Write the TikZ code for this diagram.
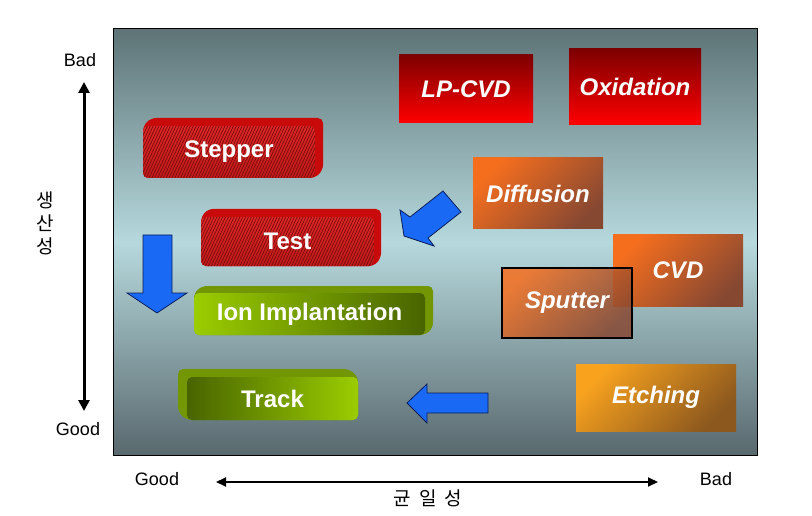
\documentclass[tikz,border=0pt]{standalone}
\usepackage{fontspec}
\setmainfont{Liberation Sans}
\newfontfamily\krfont{Noto Sans CJK KR}
\usetikzlibrary{arrows.meta,patterns.meta}
\definecolor{bgtop}{RGB}{94,116,119}
\definecolor{bgmid}{RGB}{182,217,221}
\definecolor{bgbot}{RGB}{89,105,110}
\definecolor{rdark}{RGB}{125,0,0}
\definecolor{rbright}{RGB}{255,0,0}
\definecolor{rside}{RGB}{200,10,10}
\definecolor{rfront}{RGB}{225,40,40}
\definecolor{rfrontb}{RGB}{195,28,28}
\definecolor{rhatch}{RGB}{125,12,12}
\definecolor{orA}{RGB}{245,110,30}
\definecolor{orB}{RGB}{135,72,50}
\definecolor{etA}{RGB}{248,162,30}
\definecolor{etB}{RGB}{140,88,30}
\definecolor{gLight}{RGB}{155,205,0}
\definecolor{gDark}{RGB}{72,100,0}
\definecolor{gSide}{RGB}{115,150,5}
\definecolor{ablue}{RGB}{25,105,245}
\definecolor{aedge}{RGB}{10,30,90}
\newcommand\krset{\krfont\fontsize{19}{23}\selectfont\spaceskip=8pt\relax}
\begin{document}
\begin{tikzpicture}[x=1pt,y=-1pt,
  boxtext/.style={font=\bfseries\fontsize{24}{26}\selectfont, text=white},
  itext/.style={font=\bfseries\itshape\fontsize{24}{26}\selectfont, text=white},
  flatred/.style={inner sep=0pt, top color=rdark, bottom color=rbright, itext},
  flatorange/.style={inner sep=0pt, top color=orA, bottom color=orB, shading angle=45, itext},
  flatetch/.style={inner sep=0pt, top color=etA, bottom color=etB, shading angle=45, itext},
  redfront/.style={inner sep=0pt, rounded corners=5pt, top color=rfront, bottom color=rfrontb, boxtext,
     postaction={pattern={Lines[angle=65,distance=2.6pt,line width=0.8pt]}, pattern color=rhatch}},
  redside/.style={fill=rside, rounded corners=5pt},
  greenside/.style={fill=gSide, rounded corners=5pt},
  ionfront/.style={inner sep=0pt, rounded corners=5pt, left color=gLight, right color=gDark, boxtext},
  trackfront/.style={inner sep=0pt, rounded corners=5pt, left color=gDark, right color=gLight, boxtext},
  blockarrow/.style={fill=ablue, draw=aedge, line width=0.8pt, line join=miter},
  axislabel/.style={font=\fontsize{18}{20}\selectfont, text=black},
  krlabel/.style={font=\krset, text=black, align=center},
]
\useasboundingbox (0,0) rectangle (812,516);
\fill[white] (0,0) rectangle (812,516);

% background panel
\path[top color=bgtop, bottom color=bgbot, middle color=bgmid] (113,29) rectangle (757,455);
\draw[black, line width=1pt] (113,29) rectangle (757,455);

% flat boxes
\node[flatred, minimum width=134pt, minimum height=68pt] (lpcvd) at (466,89) {LP-CVD};
\node[flatred, minimum width=132pt, minimum height=76pt] (oxid) at (635,87) {Oxidation};
\node[flatorange, minimum width=130pt, minimum height=71pt] (diff) at (538,193.5) {Diffusion};
\node[flatorange, minimum width=130pt, minimum height=71pt] (cvd) at (678,270.5) {CVD};
\node[flatorange, minimum width=130pt, minimum height=70pt, fill opacity=0.85, text opacity=1, draw=black, line width=1.2pt] (sput) at (567,303) {Sputter};
\node[flatetch, minimum width=160pt, minimum height=67pt] (etch) at (656,397.5) {Etching};

% 3D boxes
\fill[redside] (143,126) -- (151,118) -- (323,118) -- (323,170) -- (315,178) -- (143,178) -- cycle;
\node[redfront, minimum width=172pt, minimum height=52pt] (stepper) at (229,152) {Stepper};

\fill[redside] (201,217) -- (208,209) -- (381,209) -- (381,258) -- (374,266) -- (201,266) -- cycle;
\node[redfront, minimum width=173pt, minimum height=49pt] (test) at (287.5,241.5) {Test};

\fill[greenside] (194,293) -- (202,286) -- (433,286) -- (433,328) -- (425,335) -- (194,335) -- cycle;
\node[ionfront, minimum width=231pt, minimum height=42pt] (ion) at (309.5,314) {Ion Implantation};

\fill[greenside] (178,369) -- (349,369) -- (358,377) -- (358,420) -- (187,420) -- (178,412) -- cycle;
\node[trackfront, minimum width=171pt, minimum height=43pt] (track) at (272.5,398.5) {Track};

% blue block arrows
\draw[blockarrow] (143,235) -- (172,235) -- (172,293) -- (187,293) -- (157,313) -- (127,293) -- (143,293) -- cycle;
\draw[blockarrow] (443,191) -- (461,212) -- (428,238) -- (434,246) -- (404,236) -- (400,210) -- (410,217) -- cycle;
\draw[blockarrow] (488,393) -- (488,413) -- (427,413) -- (427,423) -- (407,403) -- (427,384) -- (427,393) -- cycle;

% axes
\coordinate (vtop) at (84,82);
\coordinate (vbot) at (84,411);
\draw[line width=3pt, {Triangle[length=11pt,width=11pt]}-{Triangle[length=11pt,width=11pt]}] (vtop) -- (vbot);
\node[axislabel] (vbad) at (80,60) {Bad};
\node[axislabel] (vgood) at (78,429) {Good};
\node[krlabel] (prod) at (45,223) {생\\산\\성};

\coordinate (hleft) at (216,482);
\coordinate (hright) at (658,482);
\draw[line width=2pt, {Triangle[length=10pt,width=9pt]}-{Triangle[length=10pt,width=9pt]}] (hleft) -- (hright);
\node[axislabel] (hgood) at (157,479) {Good};
\node[axislabel] (hbad) at (716,479) {Bad};
\node[krlabel] (unif) at (428,498) {균 일 성};
\end{tikzpicture}
\end{document}
